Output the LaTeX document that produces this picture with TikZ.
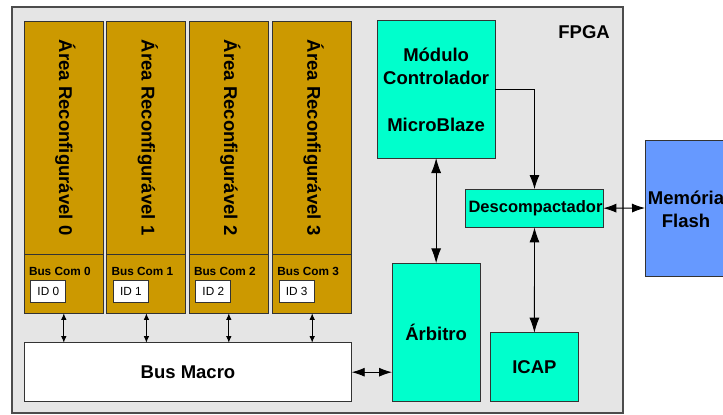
\documentclass[tikz,border=0pt]{standalone}
\usepackage{fontspec}
\setmainfont{Liberation Sans}
\usetikzlibrary{arrows.meta}
\definecolor{goldfill}{HTML}{CC9900}
\definecolor{aquafill}{HTML}{00FFCC}
\definecolor{bluefill}{HTML}{6699FF}
\definecolor{fpgafill}{HTML}{E5E5E5}
\definecolor{edge}{HTML}{333333}
\tikzset{
  box/.style={draw=edge, line width=0.9pt, inner sep=0pt, outer sep=0pt, rectangle},
  bigtxt/.style={font=\fontsize{18.5}{23.5}\selectfont\bfseries, inner sep=0pt, align=center},
  midtxt/.style={font=\fontsize{16.5}{20}\selectfont\bfseries, inner sep=0pt},
  smalltxt/.style={font=\fontsize{11.8}{13}\selectfont\bfseries, inner sep=0pt, anchor=west},
  idtxt/.style={font=\fontsize{11.8}{13}\selectfont, inner sep=0pt},
  bigarr/.style={line width=0.9pt, >={Latex[length=15pt,width=10pt]}, <->},
  onearr/.style={line width=0.9pt, >={Latex[length=14pt,width=10pt]}, ->},
  midarr/.style={line width=0.9pt, >={Latex[length=13pt,width=9pt]}, <->},
  smallarr/.style={line width=0.9pt, >={Latex[length=6.5pt,width=5.5pt]}, <->},
}
\begin{document}
\begin{tikzpicture}[x=1pt,y=-1pt]
\useasboundingbox (0,0) rectangle (723,415);
\clip (0,0) rectangle (723,415);
% FPGA
\node[box, fill=fpgafill, draw=black!70, line width=1.2pt, minimum width=611pt, minimum height=406pt] (fpga) at (317.5,210) {};
\node[bigtxt, anchor=east] (fpgalbl) at (610,31.7) {FPGA};
% reconfigurable areas
\foreach \i/\l in {0/24.3,1/106.9,2/189.3,3/272.7}{
  \node[box, fill=goldfill, minimum width=79pt, minimum height=233.3pt] (ra\i) at (\l+39.5,137.65) {};
  \node[bigtxt, rotate=-90] (ratxt\i) at ([xshift=1.5pt]ra\i.center) {Área Reconfigurável \i};
  \node[box, fill=goldfill, minimum width=79pt, minimum height=59pt] (bc\i) at (\l+39.5,283.8) {};
  \node[smalltxt] (bctxt\i) at (\l+4.5,271) {Bus Com \i};
  \node[box, fill=white, line width=0.8pt, minimum width=35pt, minimum height=21.6pt] (id\i) at (\l+24,291.5) {};
  \node[idtxt] (idtxt\i) at (id\i.center) {ID \i};
}
% Bus Macro
\node[box, fill=white, minimum width=327.4pt, minimum height=59pt] (bm) at (188,372.2) {};
\node[bigtxt] (bmtxt) at (bm.center) {Bus Macro};
\foreach \i in {0,1,2,3}{
  \draw[smallarr] (bc\i.south) -- (bc\i.south |- bm.north);
}
% Modulo controlador
\node[box, fill=aquafill, minimum width=117.7pt, minimum height=137.3pt] (mod) at (436.15,89.35) {};
\node[bigtxt] (modtxt) at (mod.center) {Módulo\\Controlador\\[23pt]MicroBlaze};
% Arbitro
\node[box, fill=aquafill, minimum width=88.3pt, minimum height=138.4pt] (arb) at (436.15,332.5) {};
\node[bigtxt] (arbtxt) at (arb.center) {Árbitro};
% ICAP
\node[box, fill=aquafill, minimum width=88.7pt, minimum height=69pt] (icap) at (534.4,367.2) {};
\node[bigtxt] (icaptxt) at (icap.center) {ICAP};
% Descompactador
\node[box, fill=aquafill, minimum width=137.6pt, minimum height=38.3pt] (desc) at (534.5,208.2) {};
\node[midtxt] (desctxt) at ([xshift=1pt]desc.center) {Descompactador};
% Memoria Flash
\node[box, fill=bluefill, minimum width=84pt, minimum height=136pt] (mem) at (687,208) {};
\node[bigtxt] (memtxt) at (686,209.5) {Memória\\Flash};
% connectors
\draw[onearr] (mod.east) -| (desc.north);
\draw[bigarr] (mod.south) -- (arb.north);
\draw[bigarr] (desc.south) -- (icap.north);
\draw[midarr] (desc.east) -- (mem.west);
\draw[midarr] (bm.east) -- (bm.east -| arb.west);
\end{tikzpicture}
\end{document}
